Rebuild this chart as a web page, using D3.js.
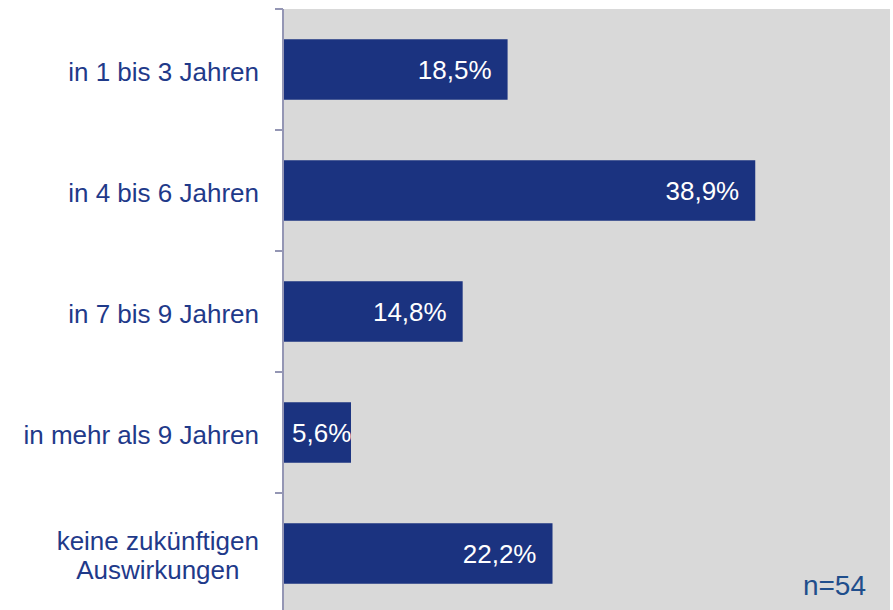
<!DOCTYPE html>
<html>
<head>
<meta charset="utf-8">
<script src="https://cdn.jsdelivr.net/npm/d3@7"></script>
<style>
    body { margin: 0; background: #fff; }
    svg { display: block; font-family: 'Liberation Sans', Arial, sans-serif; }
</style>
</head>
<body>
<svg id="chart" width="893" height="610"></svg>
<script>
// data
const categories = [
    ['in 1 bis 3 Jahren'],
    ['in 4 bis 6 Jahren'],
    ['in 7 bis 9 Jahren'],
    ['in mehr als 9 Jahren'],
    ['keine zukünftigen', 'Auswirkungen'],
];
const values = [18.5, 38.9, 14.8, 5.6, 22.2];
const note = 'n=54';

const margin = { l: 283, t: 9, r: 3, b: -4 };
const width  = 893;
const height = 610;

const svg = d3.select('#chart');

const xScale = d3.scaleLinear().domain([0, 50]).range([margin.l, width - margin.r]);
const yScale = d3.scaleBand()
    .domain(d3.range(categories.length))
    .range([margin.t, height - margin.b])
    .paddingInner(0.5)
    .paddingOuter(0.25);

// plot background
svg.append('rect')
    .attr('x', margin.l)
    .attr('y', margin.t)
    .attr('width', width - margin.r - margin.l)
    .attr('height', height - margin.t)
    .attr('fill', '#d9d9d9');

// bars
svg.selectAll('.bar')
    .data(values)
    .join('rect')
    .attr('class', 'bar')
    .attr('x', xScale(0))
    .attr('y', (d, i) => yScale(i))
    .attr('width', d => xScale(d) - xScale(0))
    .attr('height', yScale.bandwidth())
    .attr('fill', '#1b3380');

// value labels
const fmt = d => d.toFixed(1).replace('.', ',') + '%';
svg.selectAll('.val')
    .data(values)
    .join('text')
    .attr('class', 'val')
    .attr('y', (d, i) => yScale(i) + yScale.bandwidth() / 2)
    .attr('dy', '0.35em')
    .attr('fill', '#fff')
    .attr('font-size', 26)
    .text(fmt)
    .each(function(d) {
        const t = d3.select(this);
        const w = this.getComputedTextLength();
        const end = xScale(d) - 16;
        if (end - w < xScale(0) + 9) {
            t.attr('x', xScale(0) + 9).attr('text-anchor', 'start');
        } else {
            t.attr('x', end).attr('text-anchor', 'end');
        }
    });

// y axis (line + ticks between categories)
const axisColor = '#9496b4';
svg.append('line')
    .attr('x1', margin.l).attr('x2', margin.l)
    .attr('y1', margin.t).attr('y2', height)
    .attr('stroke', axisColor).attr('stroke-width', 2);

const step = yScale.step();
const tickYs = d3.range(categories.length).map(i => yScale(i) - step * yScale.paddingInner() / 2);
svg.selectAll('.tick')
    .data(tickYs)
    .join('line')
    .attr('x1', margin.l - 8).attr('x2', margin.l)
    .attr('y1', d => d).attr('y2', d => d)
    .attr('stroke', axisColor).attr('stroke-width', 2);

// category labels (multi-line labels centred within their block)
const labelRight = 259;
const labels = svg.selectAll('.cat')
    .data(categories)
    .join('text')
    .attr('class', 'cat')
    .attr('text-anchor', 'middle')
    .attr('fill', '#1f3a8a')
    .attr('font-size', 26)
    .attr('y', (d, i) => yScale(i) + yScale.bandwidth() / 2 + 2);

labels.each(function(d) {
    const g = d3.select(this);
    const spans = g.selectAll('tspan')
        .data(d.map((s, j) => ({ s, j, n: d.length })))
        .join('tspan')
        .attr('dy', e => e.j === 0 ? `${0.35 - (e.n - 1) * 0.55}em` : '1.1em')
        .text(e => e.s);
    let maxW = 0;
    spans.each(function() { maxW = Math.max(maxW, this.getComputedTextLength()); });
    spans.attr('x', labelRight - maxW / 2);
});

// sample size
svg.append('text')
    .attr('x', 866)
    .attr('y', 595)
    .attr('text-anchor', 'end')
    .attr('fill', '#1f4e8c')
    .attr('font-size', 28)
    .text(note);
</script>
</body>
</html>
